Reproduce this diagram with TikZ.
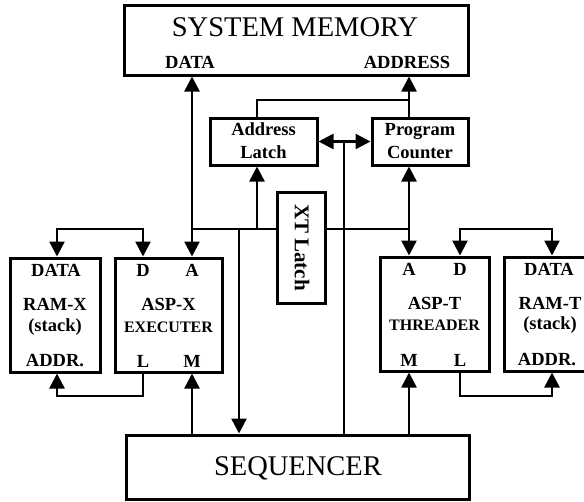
\documentclass[tikz,border=0pt]{standalone}
\usepackage{fontspec}
\setmainfont{Liberation Serif}
\usetikzlibrary{arrows.meta}

\begin{document}
\begin{tikzpicture}
	[x=1pt,y=-1pt,line width=2.5pt,
	box/.style={draw,rectangle,line width=3pt,inner sep=0pt},
	big/.style={font=\fontsize{28.5}{30}\selectfont,inner sep=0pt},
	lbl/.style={font=\bfseries\fontsize{18.5}{23}\selectfont,inner sep=0pt,align=center},
	sml/.style={font=\bfseries\fontsize{16}{18}\selectfont,inner sep=0pt},
	tip/.style={-{Triangle[length=15pt,width=15pt]}},
	tips/.style={{Triangle[length=15pt,width=15pt]}-{Triangle[length=15pt,width=15pt]}}]
	\path[clip,use as bounding box] (0,0) rectangle (584,501);

	% blocks
	\node[box,minimum width=344,minimum height=70] (mem) at (296,40) {};
	\node[box,minimum width=107,minimum height=47] (alatch) at (263.5,141.5) {};
	\node[box,minimum width=96,minimum height=47] (pc) at (420,141.5) {};
	\node[box,minimum width=48,minimum height=111] (xt) at (301,247.5) {};
	\node[box,minimum width=90,minimum height=114] (ramx) at (55,315) {};
	\node[box,minimum width=107,minimum height=114] (aspx) at (168.5,315) {};
	\node[box,minimum width=109,minimum height=114] (aspt) at (434.5,314) {};
	\node[box,minimum width=90,minimum height=114] (ramt) at (549,314) {};
	\node[box,minimum width=343,minimum height=64] (seq) at (297.5,467) {};

	% texts
	\node[big] (memname) at (295,27) {SYSTEM MEMORY};
	\node[lbl] (memdata) at (190,62) {DATA};
	\node[lbl] (memaddr) at (407,62) {ADDRESS};
	\node[lbl] (alname) at (263.5,141) {Address\\Latch};
	\node[lbl] (pcname) at (420,141) {Program\\Counter};
	\node[lbl,font=\bfseries\fontsize{21}{23}\selectfont,rotate=-90] (xtname) at (302,247.5) {XT Latch};
	\node[big] (seqname) at (298,468) {SEQUENCER};

	\node[lbl] (ramxd) at (56,270) {DATA};
	\node[lbl] (ramxn) at (55,304) {RAM-X};
	\node[lbl] (ramxs) at (55,327) {(stack)};
	\node[lbl] (ramxa) at (55,361) {ADDR.};

	\node[lbl] (aspxd) at (143,270) {D};
	\node[lbl] (aspxa) at (192,270) {A};
	\node[lbl] (aspxn) at (168.5,304) {ASP-X};
	\node[sml] (aspxs) at (168.5,327) {EXECUTER};
	\node[lbl] (aspxl) at (143,361) {L};
	\node[lbl] (aspxm) at (192,361) {M};

	\node[lbl] (aspta) at (409,269) {A};
	\node[lbl] (asptd) at (460,269) {D};
	\node[lbl] (asptn) at (434.5,303) {ASP-T};
	\node[sml] (aspts) at (434.5,325) {THREADER};
	\node[lbl] (asptm) at (409,360) {M};
	\node[lbl] (asptl) at (460,360) {L};

	\node[lbl] (ramtd) at (549,269) {DATA};
	\node[lbl] (ramtn) at (550,303) {RAM-T};
	\node[lbl] (ramts) at (550,325) {(stack)};
	\node[lbl] (ramta) at (547,360) {ADDR.};

	% columns and rows of the buses
	\coordinate (rx) at (57,0);
	\coordinate (xd) at (143,0);
	\coordinate (xa) at (192,0);
	\coordinate (sq) at (239,0);
	\coordinate (al) at (257,0);
	\coordinate (mid) at (344,0);
	\coordinate (ta) at (409,0);
	\coordinate (td) at (460,0);
	\coordinate (rt) at (552,0);
	\coordinate (top) at (0,100);
	\coordinate (up) at (0,229);
	\coordinate (low) at (0,396);

	% memory side
	\draw[tips] (mem.south -| xa) -- (aspx.north -| xa);
	\draw (alatch.north -| al) -- (al |- top) -- (ta |- top);
	\draw[tip] (pc.north -| ta) -- (mem.south -| ta);
	\draw[tips] (pc.south -| ta) -- (aspt.north -| ta);
	\draw[tips] (alatch.east) -- (pc.west);
	\draw (mid |- alatch.east) -- (seq.north -| mid);

	% XT latch bus
	\draw (xa |- up) -- (xt.west |- up);
	\draw (xt.east |- up) -- (ta |- up);
	\draw[tip] (al |- up) -- (alatch.south -| al);
	\draw[tip] (sq |- up) -- (seq.north -| sq);

	% stacks
	\draw[tips] (ramx.north -| rx) -- (rx |- up) -- (xd |- up) -- (aspx.north -| xd);
	\draw[tip] (aspx.south -| xd) -- (xd |- low) -- (rx |- low) -- (ramx.south -| rx);
	\draw[tips] (aspt.north -| td) -- (td |- up) -- (rt |- up) -- (ramt.north -| rt);
	\draw[tip] (aspt.south -| td) -- (td |- low) -- (rt |- low) -- (ramt.south -| rt);

	\foreach \col/\blk in {xa/aspx, ta/aspt}
	\draw[tip] (seq.north -| \col) -- (\blk.south -| \col);
\end{tikzpicture}
\end{document}
